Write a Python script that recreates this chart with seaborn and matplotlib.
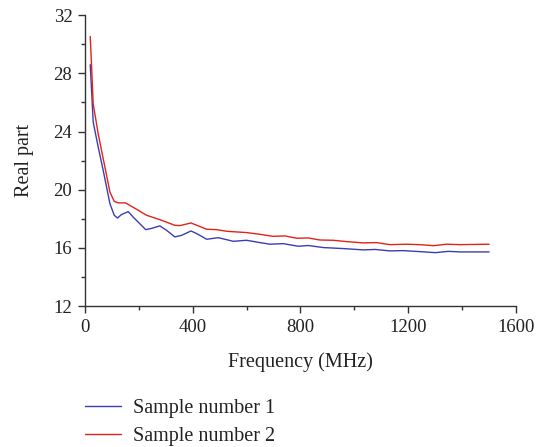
import numpy as np
import pandas as pd
import matplotlib
matplotlib.use("Agg")
import matplotlib.pyplot as plt
import seaborn as sns
from matplotlib.lines import Line2D

freq1 = [20, 31, 49.5, 68, 93, 109, 121, 136, 161, 179, 226, 248, 278, 303, 334, 359, 394, 415, 452, 495,
         551, 600, 650, 687, 736, 792, 829, 885, 959, 1033, 1077, 1132, 1181, 1244, 1300, 1349, 1392, 1500]
real1 = [28.6, 24.65, 22.94, 21.34, 19.05, 18.25, 18.06, 18.3, 18.5, 18.13, 17.26, 17.35, 17.52, 17.22, 16.76,
         16.87, 17.17, 16.99, 16.6, 16.71, 16.46, 16.53, 16.37, 16.26, 16.3, 16.12, 16.17, 16.03, 15.96, 15.87,
         15.9, 15.8, 15.82, 15.75, 15.68, 15.77, 15.73, 15.73]
freq2 = [20, 31, 49.5, 93, 109, 124, 151, 192, 229, 278, 334, 353, 394, 452, 489, 526, 600, 650, 699, 743,
         786, 829, 872, 922, 971, 1033, 1083, 1132, 1194, 1244, 1293, 1343, 1392, 1500]
real2 = [30.54, 25.9, 23.85, 19.85, 19.2, 19.1, 19.1, 18.66, 18.25, 17.95, 17.56, 17.54, 17.72, 17.29, 17.26,
         17.15, 17.06, 16.94, 16.8, 16.83, 16.67, 16.69, 16.55, 16.53, 16.44, 16.35, 16.37, 16.23, 16.26, 16.23,
         16.16, 16.26, 16.23, 16.26]
labels = ["Sample number 1", "Sample number 2"]
xticks = [0, 400, 800, 1200, 1600]
yticks = [12, 16, 20, 24, 28, 32]

df = pd.concat([
    pd.DataFrame({"Frequency": freq1, "Real": real1, "Sample": labels[0]}),
    pd.DataFrame({"Frequency": freq2, "Real": real2, "Sample": labels[1]}),
])

sns.set_style("ticks")
plt.rcParams['font.family'] = ['Liberation Serif', 'DejaVu Serif']

fig = plt.figure(figsize=(5.37, 4.47), dpi=100)
ax = fig.add_axes([0.158, 0.315, 0.803, 0.651])
sns.lineplot(data=df, x="Frequency", y="Real", hue="Sample",
             palette={labels[0]: "#3b3db5", labels[1]: "#e32219"},
             linewidth=1.0, ax=ax, legend=False, sort=False)

ax.set_xlim(0, 1600)
ax.set_ylim(12, 32)
ax.set_xticks(xticks)
ax.set_yticks(yticks)
ax.set_xticks([200, 600, 1000, 1400], minor=True)
ax.set_yticks([14, 18, 22, 26, 30], minor=True)
sns.despine(ax=ax)
for s in ["left", "bottom"]:
    ax.spines[s].set_color("#333333")
    ax.spines[s].set_linewidth(1.0)
ax.tick_params(which="major", direction="out", length=5, width=1.0, color="#333333", labelsize=13.5,
               labelcolor="#222222", pad=4)
ax.tick_params(which="minor", direction="out", length=3, width=1.0, color="#333333")
ax.set_xlabel("Frequency (MHz)", fontsize=14.5, color="#222222", labelpad=12)
ax.set_ylabel("Real part", fontsize=14.5, color="#222222", labelpad=14)

handles = [Line2D([], [], color="#3b3db5", lw=1.0), Line2D([], [], color="#e32219", lw=1.0)]
fig.legend(handles, labels, loc="upper left", bbox_to_anchor=(0.158, 0.107), frameon=False,
           fontsize=14.5, handlelength=1.8, handletextpad=0.6, labelspacing=0.45, borderaxespad=0,
           borderpad=0, labelcolor="#222222")

fig.savefig("out.png", dpi=100)
